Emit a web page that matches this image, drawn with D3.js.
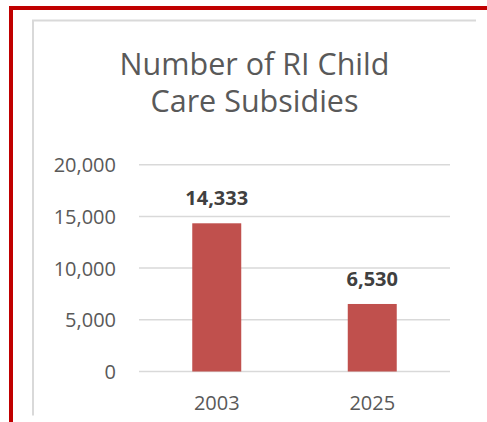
<!DOCTYPE html>
<html><head><meta charset="utf-8">
<script src="https://cdn.jsdelivr.net/npm/d3@7"></script>
<style>html,body{margin:0;padding:0;background:#fff;overflow:hidden}</style>
</head><body>
<svg id="c" width="487" height="422"></svg>
<script>
const categories = ["2003", "2025"];
const values = [14333, 6530];
const yTicks = [0, 5000, 10000, 15000, 20000];
const titleLines = ["Number of RI Child", "Care Subsidies"];

const svg = d3.select("#c");
const font = "'Open Sans', sans-serif";

// outer red frame
svg.append("rect").attr("x", 9).attr("y", 6).attr("width", 478).attr("height", 4).attr("fill", "#c00000");
svg.append("rect").attr("x", 9).attr("y", 6).attr("width", 4).attr("height", 416).attr("fill", "#c00000");
// chart area border
svg.append("path").attr("d", "M33,415.5V20.5H476").attr("fill", "none").attr("stroke", "#d9d9d9").attr("stroke-width", 2);

const x = d3.scaleBand().domain(categories).range([139, 450]).padding(0);
const y = d3.scaleLinear().domain([0, 20000]).range([371.5, 164.7]);

// gridlines
svg.append("g").selectAll("line").data(yTicks).join("line")
  .attr("x1", 139).attr("x2", 450)
  .attr("y1", d => y(d)).attr("y2", d => y(d))
  .attr("stroke", "#d9d9d9").attr("stroke-width", 1.5);

// y axis labels
const yAxis = d3.axisLeft(y).tickValues(yTicks).tickFormat(d3.format(",")).tickSize(0).tickPadding(0);
const gy = svg.append("g").attr("transform", "translate(116,0)").call(yAxis);
gy.select(".domain").remove();
gy.selectAll("text").attr("font-family", font).attr("font-size", 20).attr("fill", "#595959").attr("dy", "0.35em");

// bars
const bw = x.bandwidth() * 0.315;
svg.append("g").selectAll("rect").data(values).join("rect")
  .attr("x", (d, i) => x(categories[i]) + x.bandwidth() / 2 - bw / 2)
  .attr("y", d => y(d))
  .attr("width", bw)
  .attr("height", d => y(0) - y(d))
  .attr("fill", "#c0504d");

// data labels
svg.append("g").selectAll("text").data(values).join("text")
  .attr("x", (d, i) => x(categories[i]) + x.bandwidth() / 2)
  .attr("y", d => y(d) - 18)
  .attr("text-anchor", "middle")
  .attr("font-family", font).attr("font-weight", "bold").attr("font-size", 20)
  .attr("fill", "#404040")
  .text(d => d3.format(",")(d));

// x axis labels
const xAxis = d3.axisBottom(x).tickSize(0).tickPadding(0);
const gx = svg.append("g").attr("transform", "translate(0,410)").call(xAxis);
gx.select(".domain").remove();
gx.selectAll("text").attr("font-family", font).attr("font-size", 20).attr("fill", "#595959").attr("dy", 0);

// title
svg.append("g").selectAll("text").data(titleLines).join("text")
  .attr("x", 254.5).attr("y", (d, i) => 75 + i * 37.4)
  .attr("text-anchor", "middle")
  .attr("font-family", font).attr("font-size", 30.5).attr("fill", "#595959")
  .text(d => d);
</script>
</body></html>
